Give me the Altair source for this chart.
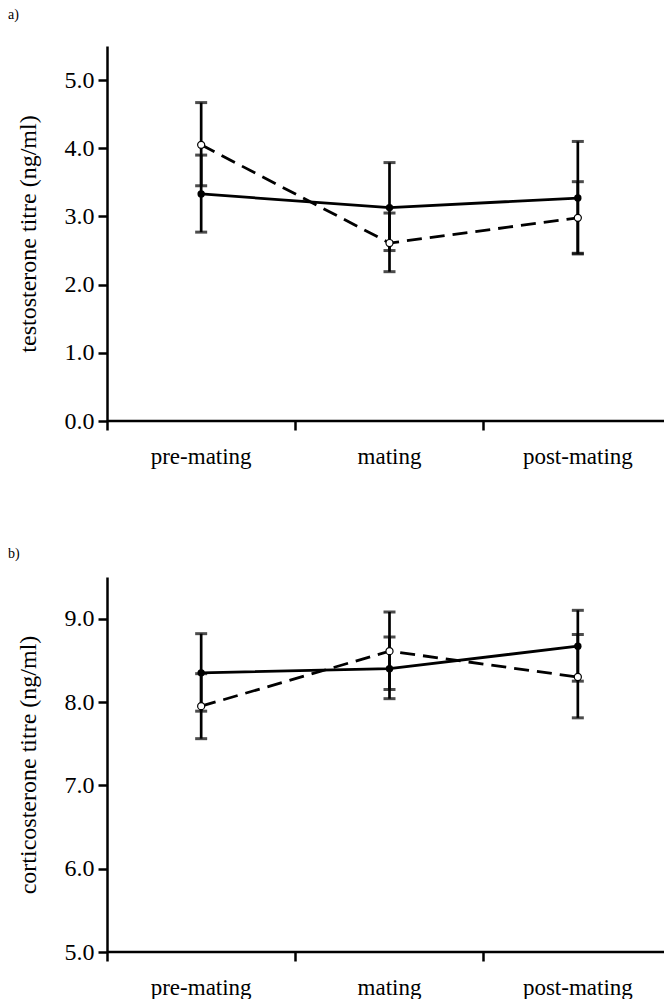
import altair as alt
import pandas as pd

phases = ["pre-mating", "mating", "post-mating"]
series_names = ["solid", "dashed"]

# panel a: testosterone titre (ng/ml)
testo_solid_mean = [3.33, 3.13, 3.27]
testo_solid_lo = [2.77, 2.50, 2.45]
testo_solid_hi = [3.90, 3.79, 4.10]
testo_dashed_mean = [4.05, 2.61, 2.98]
testo_dashed_lo = [3.45, 2.19, 2.46]
testo_dashed_hi = [4.67, 3.05, 3.51]

# panel b: corticosterone titre (ng/ml)
cort_solid_mean = [8.35, 8.40, 8.67]
cort_solid_lo = [7.89, 8.04, 8.25]
cort_solid_hi = [8.82, 8.78, 9.10]
cort_dashed_mean = [7.95, 8.61, 8.30]
cort_dashed_lo = [7.56, 8.15, 7.81]
cort_dashed_hi = [8.34, 9.08, 8.81]

testo_ticks = [0, 1, 2, 3, 4, 5]
cort_ticks = [5, 6, 7, 8, 9]

FONT = "Liberation Serif"
W = 557      # visible plot width
RANGE = 565  # x scale range (extends to the page edge, like the original)
H = 375


def make_df(solid, dashed):
    rows = []
    for name, (mean, lo, hi) in zip(series_names, [solid, dashed]):
        for p, m, l, h in zip(phases, mean, lo, hi):
            rows.append({"phase": p, "series": name, "mean": m, "lo": l, "hi": h})
    return pd.DataFrame(rows)


def panel(df, letter, letter_y, ytitle, domain, ticks):
    x = alt.X(
        "phase:N",
        sort=phases,
        scale=alt.Scale(type="band", paddingInner=0, paddingOuter=0, range=[0, RANGE]),
        axis=alt.Axis(
            title=None,
            labelAngle=0,
            bandPosition=0,
            domain=False,
            labelFont=FONT,
            labelFontSize=23,
            labelColor="black",
            labelPadding=15,
            tickSize=9,
            tickWidth=2.5,
            tickColor="black",
        ),
    )
    yscale = alt.Scale(domain=domain, nice=False, zero=False)
    y = alt.Y(
        "mean:Q",
        scale=yscale,
        axis=alt.Axis(
            title=ytitle,
            values=ticks,
            format=".1f",
            labelFont=FONT,
            labelFontSize=24,
            labelColor="black",
            labelPadding=4,
            tickSize=9,
            tickWidth=2.5,
            tickColor="black",
            domainColor="black",
            domainWidth=2.5,
            grid=False,
            titleFont=FONT,
            titleFontSize=24,
            titleFontWeight="normal",
            titleColor="black",
            titleX=-79,
            titleBaseline="middle",
        ),
    )
    base = alt.Chart(df)
    xaxis_line = alt.Chart(pd.DataFrame({"k": [0]})).mark_rule(
        color="black", strokeWidth=2.5
    ).encode(x=alt.value(0), x2=alt.value(W), y=alt.value(H))
    bars = base.mark_rule(color="black", strokeWidth=2.7).encode(
        x=x, y=alt.Y("lo:Q", scale=yscale), y2="hi:Q"
    )
    cap_lo = base.mark_tick(color="black", size=12, thickness=3).encode(
        x=x, y=alt.Y("lo:Q", scale=yscale)
    )
    cap_hi = base.mark_tick(color="black", size=12, thickness=3).encode(
        x=x, y=alt.Y("hi:Q", scale=yscale)
    )
    line_solid = base.transform_filter(alt.datum.series == "solid").mark_line(
        color="black", strokeWidth=2.8
    ).encode(x=x, y=y)
    line_dashed = base.transform_filter(alt.datum.series == "dashed").mark_line(
        color="black", strokeWidth=2.8, strokeDash=[15, 8]
    ).encode(x=x, y=y)
    pts_solid = base.transform_filter(alt.datum.series == "solid").mark_point(
        filled=True, color="black", size=55, opacity=1
    ).encode(x=x, y=y)
    pts_dashed = base.transform_filter(alt.datum.series == "dashed").mark_point(
        filled=True, fill="white", stroke="black", strokeWidth=1.2, size=50, opacity=1
    ).encode(x=x, y=y)
    lab = alt.Chart(pd.DataFrame({"t": [letter]})).mark_text(
        font=FONT, fontSize=14, align="left", baseline="top", color="black"
    ).encode(text="t:N", x=alt.value(-99), y=alt.value(letter_y))
    return alt.layer(
        xaxis_line, bars, cap_lo, cap_hi, line_solid, line_dashed, pts_solid, pts_dashed, lab
    ).properties(width=W, height=H)


df_a = make_df(
    (testo_solid_mean, testo_solid_lo, testo_solid_hi),
    (testo_dashed_mean, testo_dashed_lo, testo_dashed_hi),
)
df_b = make_df(
    (cort_solid_mean, cort_solid_lo, cort_solid_hi),
    (cort_dashed_mean, cort_dashed_lo, cort_dashed_hi),
)

pa = panel(df_a, "a)", -38, "testosterone titre (ng/ml)", [0, 5.5], testo_ticks)
pb = panel(df_b, "b)", -30, "corticosterone titre (ng/ml)", [5, 9.5], cort_ticks)

chart = (
    alt.vconcat(pa, pb, spacing=156, bounds="flush")
    .properties(
        padding={"left": 0, "top": 0, "right": -8, "bottom": 0},
        background="white",
    )
    .configure_view(stroke="transparent", strokeWidth=0)
)

chart.save("out.html", embed_options={"renderer": "svg", "actions": False})
